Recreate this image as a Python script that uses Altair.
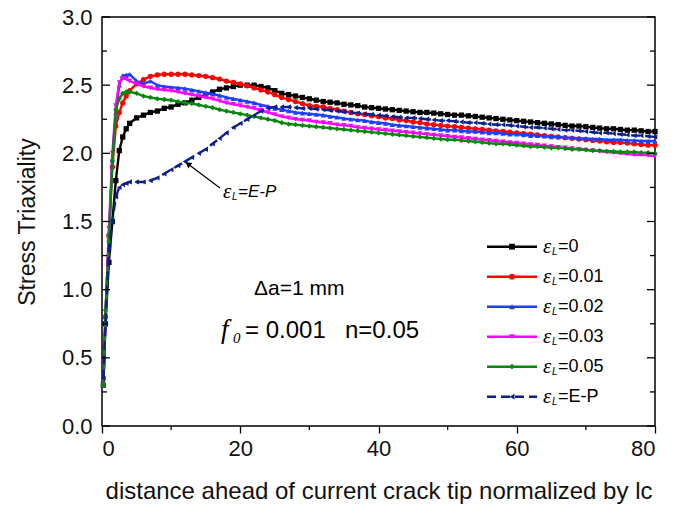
import altair as alt
import pandas as pd

# ---------------- data ----------------
X_EARLY = [0.2, 0.5, 1, 1.5, 2, 2.5, 3, 3.5]
X_MAIN = list(range(4, 81))
X = X_EARLY + X_MAIN

BLACK = [0.30, 0.75, 1.20, 1.50, 1.80, 2.02, 2.12, 2.18,
         2.22, 2.26, 2.28, 2.30, 2.31, 2.33, 2.34, 2.36, 2.37, 2.39,
         2.41, 2.43, 2.45, 2.47, 2.48, 2.49, 2.50, 2.50, 2.50, 2.49,
         2.48, 2.46, 2.44, 2.43, 2.42, 2.41, 2.40, 2.39, 2.38, 2.375,
         2.37, 2.36, 2.355, 2.35, 2.34, 2.335, 2.33, 2.325, 2.32, 2.315,
         2.31, 2.305, 2.30, 2.30, 2.295, 2.29, 2.285, 2.28, 2.28, 2.275,
         2.27, 2.265, 2.26, 2.255, 2.25, 2.245, 2.24, 2.235, 2.23, 2.225,
         2.22, 2.215, 2.21, 2.205, 2.20, 2.20, 2.195, 2.19, 2.185, 2.18,
         2.18, 2.175, 2.17, 2.17, 2.165, 2.16, 2.16]
RED = [0.30, 0.80, 1.40, 1.90, 2.20, 2.30, 2.37, 2.42,
       2.46, 2.51, 2.54, 2.565, 2.575, 2.58, 2.58, 2.58, 2.58, 2.575,
       2.57, 2.565, 2.555, 2.545, 2.53, 2.52, 2.51, 2.495, 2.48, 2.465,
       2.45, 2.43, 2.41, 2.395, 2.38, 2.365, 2.35, 2.345, 2.34, 2.33,
       2.32, 2.31, 2.30, 2.29, 2.285, 2.275, 2.27, 2.26, 2.255, 2.245,
       2.24, 2.23, 2.225, 2.215, 2.21, 2.205, 2.20, 2.195, 2.19, 2.185,
       2.18, 2.175, 2.17, 2.165, 2.16, 2.155, 2.15, 2.145, 2.14, 2.135,
       2.13, 2.125, 2.12, 2.115, 2.11, 2.105, 2.10, 2.095, 2.09, 2.085,
       2.08, 2.08, 2.075, 2.07, 2.065, 2.06, 2.06]
BLUE = [0.30, 0.80, 1.40, 1.95, 2.30, 2.50, 2.57, 2.575,
        2.58, 2.53, 2.51, 2.53, 2.50, 2.49, 2.485, 2.48, 2.475, 2.465,
        2.455, 2.445, 2.435, 2.425, 2.41, 2.40, 2.39, 2.38, 2.37, 2.355,
        2.345, 2.33, 2.32, 2.31, 2.30, 2.295, 2.29, 2.285, 2.28, 2.27,
        2.265, 2.255, 2.25, 2.245, 2.24, 2.23, 2.225, 2.22, 2.21, 2.205,
        2.20, 2.195, 2.19, 2.185, 2.18, 2.175, 2.17, 2.17, 2.165, 2.16,
        2.16, 2.155, 2.15, 2.15, 2.145, 2.14, 2.14, 2.135, 2.13, 2.13,
        2.125, 2.12, 2.12, 2.115, 2.115, 2.11, 2.11, 2.105, 2.105, 2.10,
        2.10, 2.10, 2.095, 2.095, 2.09, 2.09, 2.09]
MAGENTA = [0.30, 0.80, 1.45, 2.00, 2.35, 2.52, 2.55, 2.545,
           2.53, 2.51, 2.49, 2.48, 2.47, 2.465, 2.46, 2.45, 2.44, 2.43,
           2.42, 2.41, 2.40, 2.385, 2.37, 2.36, 2.35, 2.34, 2.33, 2.315,
           2.30, 2.285, 2.27, 2.26, 2.25, 2.245, 2.24, 2.23, 2.225, 2.22,
           2.21, 2.205, 2.20, 2.19, 2.185, 2.18, 2.175, 2.17, 2.165, 2.16,
           2.155, 2.15, 2.145, 2.14, 2.135, 2.13, 2.125, 2.12, 2.115, 2.11,
           2.105, 2.10, 2.095, 2.09, 2.085, 2.08, 2.075, 2.07, 2.065, 2.06,
           2.055, 2.05, 2.045, 2.04, 2.035, 2.03, 2.025, 2.02, 2.015, 2.01,
           2.005, 2.00, 1.995, 1.99, 1.99, 1.985, 1.98]
GREEN = [0.30, 0.85, 1.35, 1.95, 2.32, 2.40, 2.44, 2.45,
         2.45, 2.44, 2.42, 2.41, 2.40, 2.395, 2.39, 2.38, 2.37, 2.365,
         2.355, 2.345, 2.335, 2.32, 2.31, 2.30, 2.29, 2.28, 2.27, 2.26,
         2.25, 2.24, 2.225, 2.215, 2.21, 2.205, 2.20, 2.195, 2.19, 2.185,
         2.18, 2.175, 2.17, 2.165, 2.16, 2.155, 2.15, 2.145, 2.14, 2.135,
         2.13, 2.125, 2.12, 2.115, 2.11, 2.105, 2.10, 2.10, 2.095, 2.09,
         2.085, 2.08, 2.075, 2.07, 2.07, 2.065, 2.06, 2.055, 2.05, 2.05,
         2.045, 2.04, 2.04, 2.035, 2.03, 2.03, 2.025, 2.02, 2.02, 2.015,
         2.015, 2.01, 2.01, 2.01, 2.005, 2.005, 2.00]
NAVY = [0.35, 0.75, 1.30, 1.50, 1.68, 1.75, 1.77, 1.78,
        1.79, 1.79, 1.79, 1.80, 1.82, 1.85, 1.88, 1.91, 1.94, 1.97,
        2.00, 2.03, 2.07, 2.11, 2.15, 2.19, 2.22, 2.25, 2.28, 2.31,
        2.33, 2.34, 2.34, 2.34, 2.335, 2.33, 2.33, 2.325, 2.32, 2.315,
        2.31, 2.305, 2.30, 2.295, 2.29, 2.285, 2.28, 2.275, 2.27, 2.265,
        2.26, 2.26, 2.255, 2.25, 2.245, 2.24, 2.24, 2.235, 2.23, 2.225,
        2.225, 2.22, 2.215, 2.21, 2.21, 2.205, 2.20, 2.195, 2.19, 2.19,
        2.185, 2.18, 2.175, 2.17, 2.17, 2.165, 2.16, 2.155, 2.15, 2.15,
        2.145, 2.14, 2.135, 2.13, 2.13, 2.125, 2.12]

KEYS = ["0", "0.01", "0.02", "0.03", "0.05", "E-P"]
LABEL_REST = ["=0", "=0.01", "=0.02", "=0.03", "=0.05", "=E-P"]
COLORS = ["#000000", "#ff0000", "#1f3fff", "#ff00ff", "#08870f", "#0b1f8c"]
SHAPES = ["square", "circle", "triangle-up", "triangle-down", "diamond", "triangle-left"]
DASHES = [[1, 0], [1, 0], [1, 0], [1, 0], [1, 0], [9, 5]]
VALUES = [BLACK, RED, BLUE, MAGENTA, GREEN, NAVY]

Y_TICKS_MAJOR = [0.0, 0.5, 1.0, 1.5, 2.0, 2.5, 3.0]
Y_TICKS_MINOR = [0.25, 0.75, 1.25, 1.75, 2.25, 2.75]
X_TICKS_MAJOR = [0, 20, 40, 60, 80]
X_TICKS_MINOR = [10, 30, 50, 70]

# ---------------- layout ----------------
W, H = 553, 409
PAD_L, PAD_T = 102, 17
FONT = "Liberation Sans"


def px2x(px):
    return (px - PAD_L) * 80.0 / W


def py2y(py):
    return 3.0 - (py - PAD_T) * 3.0 / H


xs = alt.Scale(domain=[0, 80], nice=False, zero=False)
ys = alt.Scale(domain=[0, 3], nice=False, zero=False)
color_scale = alt.Scale(domain=KEYS, range=COLORS)
shape_scale = alt.Scale(domain=KEYS, range=SHAPES)
dash_scale = alt.Scale(domain=KEYS, range=DASHES)

X_AXIS = alt.Axis(values=X_TICKS_MAJOR, title="distance ahead of current crack tip normalized by lc",
                  tickSize=7, labelPadding=5, domain=False, grid=False,
                  titleY=65, titleBaseline="middle", titleFontSize=24)
Y_AXIS = alt.Axis(values=Y_TICKS_MAJOR, format=".1f", title="Stress Triaxiality",
                  ticks=False, tickSize=0, labelPadding=10, domain=False, grid=False,
                  titleX=-75, titleBaseline="middle", titleFontSize=23)


def XQ(f):
    return alt.X(f, type="quantitative", scale=xs, axis=X_AXIS)


def YQ(f):
    return alt.Y(f, type="quantitative", scale=ys, axis=Y_AXIS)


layers = []

# data series
for key, vals in zip(KEYS, VALUES):
    d = pd.DataFrame({"x": X, "y": vals, "s": key})
    base = alt.Chart(d)
    enc = dict(x=XQ("x"), y=YQ("y"),
               color=alt.Color("s:N", scale=color_scale, legend=None))
    layers.append(base.mark_line(strokeWidth=2.4).encode(
        strokeDash=alt.StrokeDash("s:N", scale=dash_scale, legend=None), **enc))
    layers.append(base.mark_point(filled=True, size=28, opacity=1).encode(
        shape=alt.Shape("s:N", scale=shape_scale, legend=None), **enc))

# inward y ticks (left and right) and minor x ticks
for side in ("left", "right"):
    for ln, vals in ((8, Y_TICKS_MAJOR), (5, Y_TICKS_MINOR)):
        d = pd.DataFrame({"y": vals})
        if side == "left":
            xa, xb = 0, ln
        else:
            xa, xb = W - ln, W
        layers.append(alt.Chart(d).mark_rule(color="black", strokeWidth=1.3).encode(
            y=YQ("y"), x=alt.value(xa), x2=alt.value(xb)))

xm = pd.DataFrame({"x": X_TICKS_MINOR})
layers.append(alt.Chart(xm).mark_rule(color="black", strokeWidth=1.3).encode(
    x=XQ("x"), y=alt.value(H), y2=alt.value(H + 4)))

# legend (custom)
ROW0, DROW = 246.7, 30.0
leg = pd.DataFrame({
    "s": KEYS,
    "rest": LABEL_REST,
    "y": [py2y(ROW0 + DROW * i) for i in range(6)],
    "x": [px2x(487)] * 6,
    "x2": [px2x(537)] * 6,
    "xm": [px2x(512)] * 6,
    "xt": [px2x(543)] * 6,
    "eps": ["ε"] * 6,
    "sub": ["L"] * 6,
})
lb = alt.Chart(leg)
layers.append(lb.mark_rule(strokeWidth=2.6).encode(
    x=XQ("x"), x2="x2:Q", y=YQ("y"),
    color=alt.Color("s:N", scale=color_scale, legend=None),
    strokeDash=alt.StrokeDash("s:N", scale=dash_scale, legend=None)))
layers.append(lb.mark_point(filled=True, size=34, opacity=1).encode(
    x=XQ("xm"), y=YQ("y"),
    color=alt.Color("s:N", scale=color_scale, legend=None),
    shape=alt.Shape("s:N", scale=shape_scale, legend=None)))
layers.append(lb.mark_text(font="Liberation Serif", fontStyle="italic", fontSize=21,
                           align="left", baseline="middle", color="black").encode(
    x=XQ("xt"), y=YQ("y"), text="eps:N"))
layers.append(lb.mark_text(font=FONT, fontStyle="italic", fontSize=10,
                           align="left", baseline="middle", color="black", dx=9, dy=5).encode(
    x=XQ("xt"), y=YQ("y"), text="sub:N"))
layers.append(lb.mark_text(font=FONT, fontSize=18,
                           align="left", baseline="middle", color="black", dx=15).encode(
    x=XQ("xt"), y=YQ("y"), text="rest:N"))

# annotation with arrow
arr = pd.DataFrame({"x": [px2x(220)], "y": [py2y(188)], "x2": [px2x(188)], "y2": [py2y(164)]})
layers.append(alt.Chart(arr).mark_rule(color="black", strokeWidth=1.2).encode(
    x=XQ("x"), y=YQ("y"), x2="x2:Q", y2="y2:Q"))
layers.append(alt.Chart(arr).mark_point(shape="triangle-up", filled=True, size=45, angle=307,
                                        color="black", opacity=1).encode(
    x=XQ("x2"), y=YQ("y2")))

ann = pd.DataFrame({"x": [px2x(223)], "y": [py2y(192)], "e": ["ε"], "l": ["L"], "r": ["=E-P"]})
ab = alt.Chart(ann)
layers.append(ab.mark_text(font="Liberation Serif", fontStyle="italic", fontSize=21,
                           align="left", baseline="middle").encode(
    x=XQ("x"), y=YQ("y"), text="e:N"))
layers.append(ab.mark_text(font=FONT, fontStyle="italic", fontSize=10,
                           align="left", baseline="middle", dx=9, dy=5).encode(
    x=XQ("x"), y=YQ("y"), text="l:N"))
layers.append(ab.mark_text(font=FONT, fontStyle="italic", fontSize=17,
                           align="left", baseline="middle", dx=15).encode(
    x=XQ("x"), y=YQ("y"), text="r:N"))

# parameter texts
txt = pd.DataFrame({
    "x": [px2x(254), px2x(221), px2x(233), px2x(245), px2x(345)],
    "y": [py2y(289), py2y(330), py2y(338), py2y(331), py2y(331)],
    "t": ["Δa=1 mm", "f", "0", "= 0.001", "n=0.05"],
})
specs = [(0, FONT, "normal", 21), (1, "Liberation Serif", "italic", 27),
         (2, "Liberation Serif", "italic", 15), (3, FONT, "normal", 24), (4, FONT, "normal", 24)]
for i, f, st, fs in specs:
    layers.append(alt.Chart(txt.iloc[[i]]).mark_text(font=f, fontStyle=st, fontSize=fs,
                                                     align="left", baseline="middle", color="black").encode(
        x=XQ("x"), y=YQ("y"), text="t:N"))

chart = alt.layer(*layers).properties(
    width=W, height=H,
    autosize=alt.AutoSizeParams(type="none"),
    padding={"left": PAD_L, "top": PAD_T, "right": 694 - PAD_L - W, "bottom": 507 - PAD_T - H},
    background="white",
).configure_view(stroke="black", strokeWidth=1.5).configure_axis(
    labelFont=FONT, titleFont=FONT, labelFontSize=22, titleFontSize=23,
    labelColor="#111", titleColor="#111", titleFontWeight="normal",
    tickColor="black", tickWidth=1.3,
)

chart.save("out.html", embed_options={"renderer": "svg", "actions": False})
